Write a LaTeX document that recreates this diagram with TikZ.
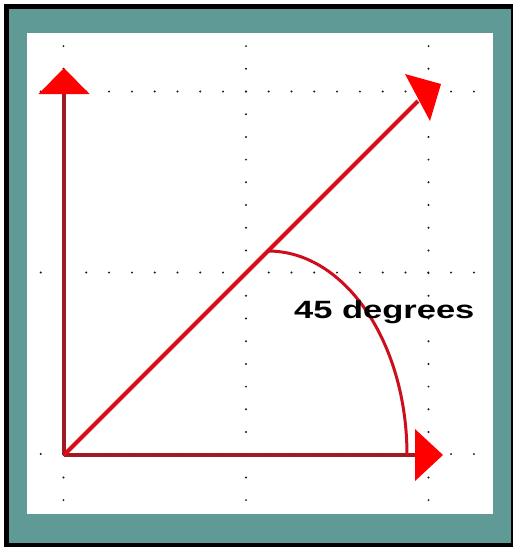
\documentclass[tikz,border=0pt]{standalone}
\usepackage{fontspec}
\usepackage{graphicx}
\newfontfamily\lblfont{Liberation Sans}
\definecolor{framec}{RGB}{96,154,150}
\definecolor{shaftc}{RGB}{160,26,36}
\definecolor{diagc}{RGB}{218,12,22}
\definecolor{arcc}{RGB}{205,14,28}
\definecolor{headc}{RGB}{255,0,0}
\definecolor{dotc}{RGB}{25,25,25}
\tikzset{
  shaft/.style={draw=shaftc, line width=4pt},
  diagline/.style={draw=diagc, line width=4pt},
  arcline/.style={draw=arcc, line width=3pt},
  headfill/.style={fill=headc},
  griddot/.style={fill=dotc},
  lbl/.style={anchor=base west, inner sep=0pt, text=black, font=\lblfont\bfseries\fontsize{25}{30}\selectfont}
}
\begin{document}
\begin{tikzpicture}[x=1pt,y=-1pt]
\useasboundingbox (0,0) rectangle (513,547);
\fill[white] (0,0) rectangle (513,547);
\fill[black] (4,4) rectangle (513,547);
\fill[framec] (9,9) rectangle (511,543);
\fill[white] (27,33) rectangle (493,514);
% dotted grid
\foreach \yy in {91.5,272.5,454}{
  \foreach \k in {-1,...,18}{
    \fill[griddot] ({63.5+\k*22.8},\yy) circle[radius=1.1];
  }
}
\foreach \xx in {63.5,246,428.5}{
  \foreach \k in {-2,...,18}{
    \fill[griddot] (\xx,{91.5+\k*22.7}) circle[radius=1.1];
  }
}
% coordinates
\coordinate (O) at (64,455);
\coordinate (V) at (64,94);
\coordinate (H) at (415,455);
\coordinate (D) at (418,101);
\coordinate (A) at (268,251);
% shafts
\draw[shaft] (O) -- (V);
\draw[shaft] (O) -- (H);
\draw[diagline] (O) -- (D);
\draw[arcline] (A) arc[start angle=-90, end angle=0, x radius=139, y radius=204];
% arrowheads
\fill[headfill] (64,68) -- (38.5,94) -- (89.5,94) -- cycle;
\fill[headfill] (443,455) -- (415,429) -- (415,481) -- cycle;
\fill[headfill] (441,84) -- (405,74) -- (430,121) -- cycle;
% label
\node[lbl] (L) at (294,318.5) {\scalebox{1.38}[1]{45 degrees}};
\end{tikzpicture}
\end{document}
